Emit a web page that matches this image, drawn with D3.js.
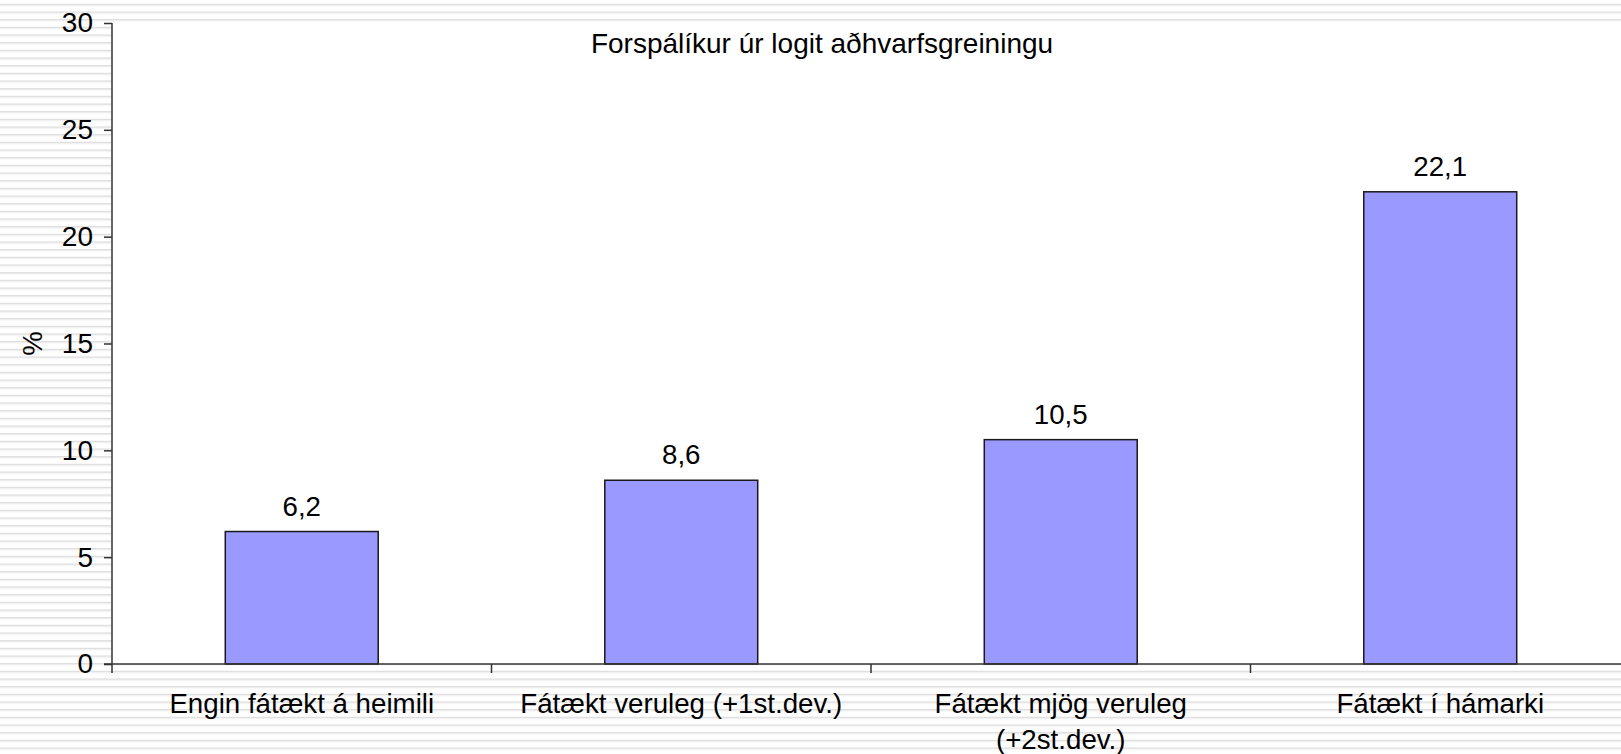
<!DOCTYPE html>
<html>
<head>
<meta charset="utf-8">
<script src="https://cdn.jsdelivr.net/npm/d3@7"></script>
<style>
  html, body { margin: 0; padding: 0; background: #fff; }
  svg text { font-family: "Liberation Sans", Arial, sans-serif; fill: #000; }
</style>
</head>
<body>
<svg id="chart" width="1621" height="754"></svg>
<script>
const categories = [
  ["Engin fátækt á heimili"],
  ["Fátækt veruleg (+1st.dev.)"],
  ["Fátækt mjög veruleg", "(+2st.dev.)"],
  ["Fátækt í hámarki"]
];
const values = [6.2, 8.6, 10.5, 22.1];
const valueLabels = ["6,2", "8,6", "10,5", "22,1"];
const yTicks = [0, 5, 10, 15, 20, 25, 30];
const titleText = "Forspálíkur úr logit aðhvarfsgreiningu";
const yTitle = "%";

const W = 1621, H = 754;
const mLeft = 112, mRight = 1630, mTop = 23, mBottom = 664;
const fs = 27.7;

const svg = d3.select("#chart");

// striped background
const defs = svg.append("defs");
const pat = defs.append("pattern")
  .attr("id", "stripes").attr("patternUnits", "userSpaceOnUse")
  .attr("x", 0).attr("y", 3.8).attr("width", 20).attr("height", 23/3);
pat.append("rect").attr("x", 0).attr("y", 0).attr("width", 20).attr("height", 23/3).attr("fill", "#fff");
pat.append("rect").attr("x", 0).attr("y", 0).attr("width", 20).attr("height", 1.3).attr("fill", "#dcdcdc");
pat.append("rect").attr("x", 0).attr("y", 1.3).attr("width", 20).attr("height", 0.9).attr("fill", "#ececec");
svg.append("rect").attr("width", W).attr("height", H).attr("fill", "url(#stripes)");
svg.append("rect").attr("x", mLeft).attr("y", mTop).attr("width", W - mLeft).attr("height", mBottom - mTop).attr("fill", "#fff");

const idx = categories.map((d, i) => i);
const x = d3.scaleBand().domain(idx).range([mLeft, mRight]).paddingInner(0.597).paddingOuter(0.2985);
const xStep = d3.scaleLinear().domain([0, categories.length]).range([mLeft, mRight]);
const y = d3.scaleLinear().domain([0, 30]).range([mBottom, mTop]);

// bars
svg.append("g").selectAll("rect").data(values).join("rect")
  .attr("x", (d, i) => x(i))
  .attr("y", d => y(d))
  .attr("width", x.bandwidth())
  .attr("height", d => y(0) - y(d))
  .attr("fill", "#9999ff")
  .attr("stroke", "#1a1a1a")
  .attr("stroke-width", 1.5);

// value labels
svg.append("g").selectAll("text").data(values).join("text")
  .attr("x", (d, i) => x(i) + x.bandwidth() / 2)
  .attr("y", d => y(d) - 16)
  .attr("text-anchor", "middle")
  .attr("font-size", fs)
  .text((d, i) => valueLabels[i]);

// y axis
const yAxis = d3.axisLeft(y).tickValues(yTicks).tickSize(8).tickPadding(11).tickFormat(d3.format("d"));
const gy = svg.append("g").attr("transform", `translate(${mLeft},0)`).call(yAxis);
gy.select(".domain").remove();
gy.selectAll(".tick line").attr("stroke", "#333").attr("stroke-width", 1.5);
gy.selectAll(".tick text").attr("font-size", 28).attr("font-family", "Liberation Sans, Arial, sans-serif").attr("fill", "#000");
svg.append("line").attr("x1", mLeft).attr("x2", mLeft).attr("y1", mTop).attr("y2", mBottom + 9)
  .attr("stroke", "#333").attr("stroke-width", 1.5);

// x axis
svg.append("line").attr("x1", mLeft - 8).attr("x2", W).attr("y1", mBottom).attr("y2", mBottom)
  .attr("stroke", "#333").attr("stroke-width", 1.5);
svg.append("g").selectAll("line").data(d3.range(1, categories.length)).join("line")
  .attr("x1", d => xStep(d)).attr("x2", d => xStep(d))
  .attr("y1", mBottom).attr("y2", mBottom + 9)
  .attr("stroke", "#333").attr("stroke-width", 1.5);

// category labels
const cl = svg.append("g").selectAll("text").data(categories).join("text")
  .attr("x", (d, i) => x(i) + x.bandwidth() / 2)
  .attr("y", 713)
  .attr("text-anchor", "middle")
  .attr("font-size", fs);
cl.selectAll("tspan").data(d => d).join("tspan")
  .attr("x", function() { return this.parentNode.getAttribute("x"); })
  .attr("dy", (d, j) => j === 0 ? 0 : 36)
  .text(d => d);

// title
svg.append("text").attr("x", 822).attr("y", 53).attr("text-anchor", "middle")
  .attr("font-size", 28).text(titleText);

// y title
svg.append("text").attr("transform", `translate(42,${(mTop + mBottom) / 2}) rotate(-90)`)
  .attr("text-anchor", "middle").attr("font-size", fs).text(yTitle);
</script>
</body>
</html>
